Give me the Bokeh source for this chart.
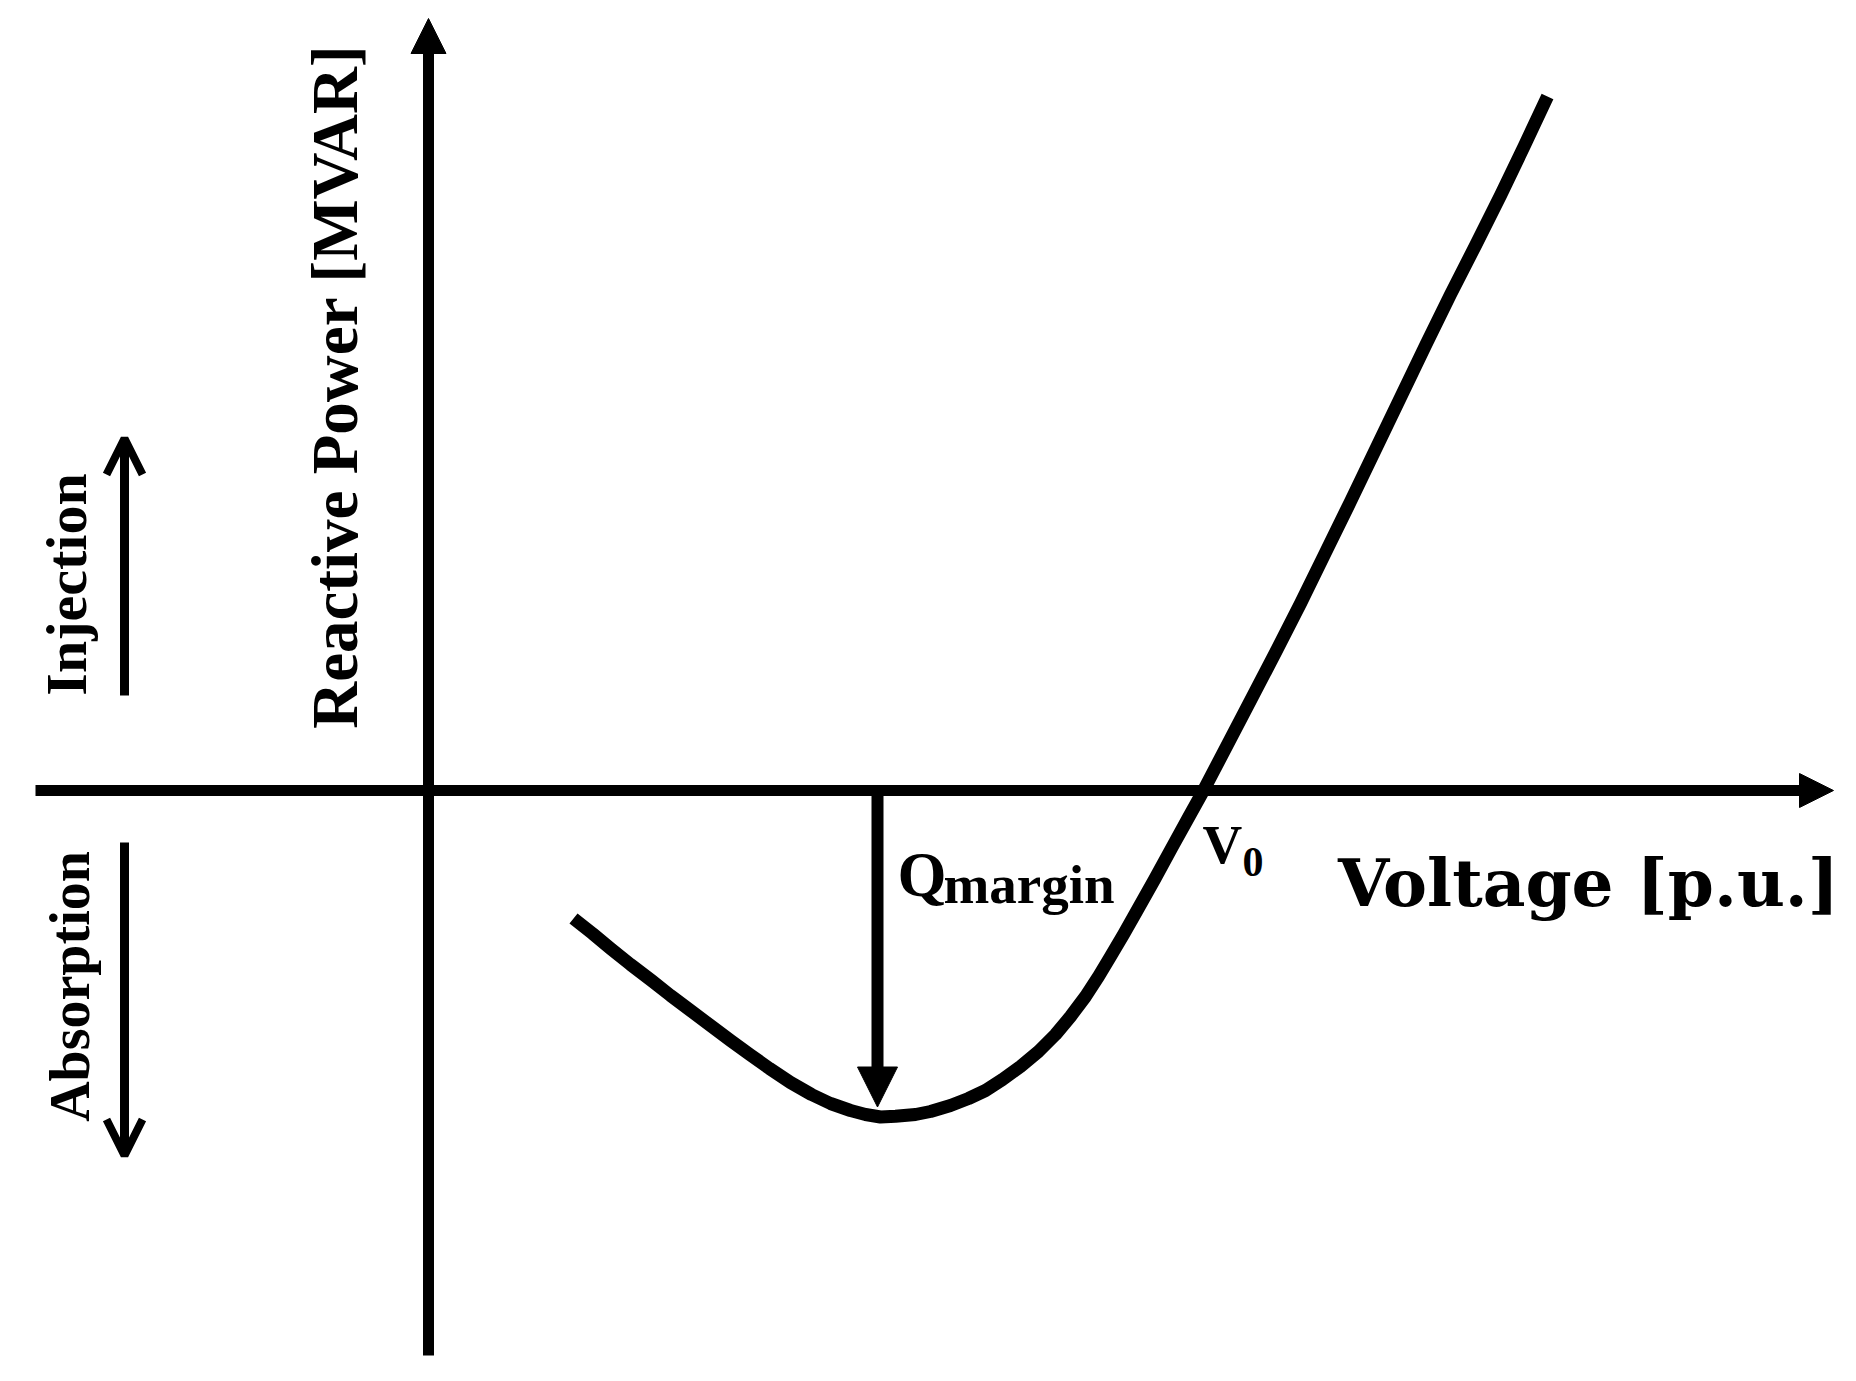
import math
from bokeh.plotting import figure
from bokeh.models import Arrow, NormalHead, OpenHead, Label, Range1d
from bokeh.embed import file_html
from bokeh.resources import INLINE

# ---- data (schematic Q-V curve, arbitrary units; origin at axes crossing) ----
voltage = [1.43, 1.62, 1.80, 2.00, 2.21, 2.40, 2.60, 2.80, 3.00, 3.20, 3.39, 3.60,
           3.81, 4.00, 4.20, 4.35, 4.50, 4.65, 4.85, 5.00, 5.20, 5.38, 5.55, 5.72,
           5.90, 6.08, 6.25, 6.40, 6.55, 6.68, 6.80, 6.93, 7.06, 7.24, 7.42, 7.58,
           7.73, 7.96, 8.20, 8.45, 8.70, 8.95, 9.20, 9.45, 9.70, 9.95, 10.20, 10.45,
           10.70, 10.94, 11.17]
reactive_power = [-1.28, -1.43, -1.58, -1.74, -1.90, -2.05, -2.20, -2.35, -2.50, -2.645,
                  -2.78, -2.92, -3.04, -3.13, -3.20, -3.24, -3.265, -3.258, -3.24, -3.21,
                  -3.15, -3.08, -3.00, -2.89, -2.76, -2.61, -2.44, -2.26, -2.06, -1.86,
                  -1.66, -1.44, -1.21, -0.89, -0.56, -0.27, 0.00, 0.44, 0.90, 1.38,
                  1.87, 2.38, 2.89, 3.41, 3.93, 4.45, 4.96, 5.45, 5.95, 6.45, 6.94]

y_title = "Reactive Power [MVAR]"
x_title = "Voltage [p.u.]"
up_label = "Injection"
down_label = "Absorption"
q_main, q_sub = "Q", "margin"
v_main, v_sub = "V", "0"

# ---- figure: 100 px per unit ----
W, H = 1850, 1376
PX = 100.0
X0 = -4.30
Y1 = 7.90
p = figure(width=W, height=H,
           x_range=Range1d(X0, X0 + W / PX), y_range=Range1d(Y1 - H / PX, Y1),
           output_backend="svg", toolbar_location=None,
           x_axis_type=None, y_axis_type=None, min_border=0)
p.outline_line_color = None
p.background_fill_color = "white"
p.border_fill_color = "white"

# axes with arrow heads
p.add_layout(Arrow(end=NormalHead(size=34, fill_color="black", line_color="black", line_width=1),
                   x_start=-3.95, y_start=0, x_end=14.03, y_end=0,
                   line_width=11, line_color="black"))
p.add_layout(Arrow(end=NormalHead(size=35, fill_color="black", line_color="black", line_width=1),
                   x_start=-0.02, y_start=-5.65, x_end=-0.02, y_end=7.72,
                   line_width=11, line_color="black"))

# Q-V curve
p.line(voltage, reactive_power, line_width=13, line_color="black",
       line_join="round", line_cap="butt")

# Q margin arrow: from axis down to the curve minimum
i_min = min(range(len(reactive_power)), key=lambda i: reactive_power[i])
v_at_min = voltage[i_min] - 0.03
q_min = reactive_power[i_min]
p.add_layout(Arrow(end=NormalHead(size=40, fill_color="black", line_color="black", line_width=1),
                   x_start=v_at_min, y_start=0, x_end=v_at_min, y_end=q_min + 0.10,
                   line_width=12, line_color="black"))

# injection / absorption arrows
p.add_layout(Arrow(end=OpenHead(size=36, line_width=8, line_color="black"),
                   x_start=-3.06, y_start=0.95, x_end=-3.06, y_end=3.52,
                   line_width=9, line_color="black"))
p.add_layout(Arrow(end=OpenHead(size=36, line_width=8, line_color="black"),
                   x_start=-3.06, y_start=-0.52, x_end=-3.06, y_end=-3.65,
                   line_width=9, line_color="black"))

SERIF = "Liberation Serif"

def lab(x, y, text, size, font=SERIF, angle=0.0, align="left", baseline="alphabetic"):
    p.add_layout(Label(x=x, y=y, text=text, angle=angle, text_align=align,
                       text_baseline=baseline, text_font=font, text_font_style="bold",
                       text_font_size=f"{size}px", text_color="black"))

lab(-0.96, 4.04, y_title, 65, angle=math.pi / 2, align="center")
lab(-3.64, 2.06, up_label, 58, angle=math.pi / 2, align="center")
lab(-3.61, -1.96, down_label, 56, angle=math.pi / 2, align="center")

lab(4.67, -0.84, q_main, 63)
lab(5.13, -0.94, q_sub, 55)
lab(7.72, -0.54, v_main, 55)
lab(8.12, -0.71, v_sub, 42)
lab(11.58, -0.92, x_title, 66, font="DejaVu Serif", align="center")

open("out.html", "w").write(file_html(p, INLINE))
